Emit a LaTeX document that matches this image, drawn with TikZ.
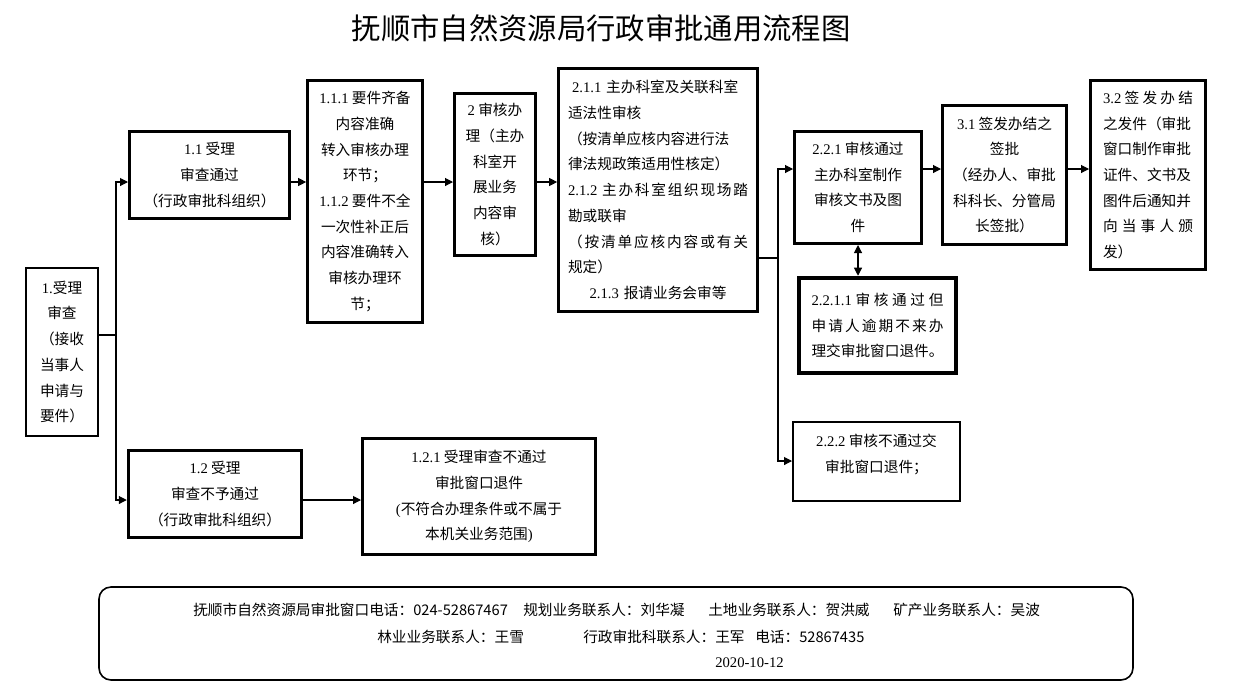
\documentclass[tikz,border=0pt]{standalone}
\usepackage{fontspec}
\setmainfont{Noto Sans CJK SC}
\newfontfamily\latf{Liberation Serif}
\newcommand\lat[1]{{\latf #1}}
\usetikzlibrary{arrows.meta}
\begin{document}
\begin{tikzpicture}[x=0.75pt,y=-0.75pt,
  font=\fontsize{11}{19.3}\selectfont,
  box/.style={draw, line width=2.25pt, inner sep=0pt, align=center},
  bw/.style 2 args={minimum width=#1*0.75pt, minimum height=#2*0.75pt},
  arr/.style={line width=0.8pt, -{Triangle[length=6pt,width=6pt]}},
  darr/.style={line width=0.8pt, {Triangle[length=6pt,width=6pt]}-{Triangle[length=6pt,width=6pt]}},
  ln/.style={line width=0.8pt},
  ftxt/.style={inner sep=0pt, anchor=west}]
\useasboundingbox (0,0) rectangle (1234,690);

% title
\node (title) at (601,28) {\fontsize{22}{26}\selectfont 抚顺市自然资源局行政审批通用流程图};

% boxes
\node[box, line width=1.5pt, bw={72}{168}] (b1) at (62,352)
  {\lat{1.}受理\\审查\\（接收\\当事人\\申请与\\要件）};
\node[box, bw={160}{87}] (b11) at (209.5,175)
  {\lat{1.1} 受理\\审查通过\\（行政审批科组织）};
\node[box, line width=2pt, bw={115}{242}] (b111) at (365,201.5)
  {\lat{1.1.1} 要件齐备\\内容准确\\转入审核办理\\环节；\\\lat{1.1.2} 要件不全\\一次性补正后\\内容准确转入\\审核办理环\\节；};
\node[box, bw={81}{162}] (b2) at (495,174.5)
  {\lat{2} 审核办\\理（主办\\科室开\\展业务\\内容审\\核）};
\node[box, line width=2pt, bw={199}{243}, align=left, text width=135pt] (b21) at (658,190)
  {\hspace*{3pt}\lat{2.1.1} 主办科室及关联科室\\适法性审核\\（按清单应核内容进行法\\律法规政策适用性核定）\\\lat{2.1.2} 主\hfill 办\hfill 科\hfill 室\hfill 组\hfill 织\hfill 现\hfill 场\hfill 踏\\勘或联审\\（\hfill 按\hfill 清\hfill 单\hfill 应\hfill 核\hfill 内\hfill 容\hfill 或\hfill 有\hfill 关\\规定）\\\hfill\lat{2.1.3} 报请业务会审等\hfill\null};
\node[box, bw={127}{112}] (b221) at (858,187.5)
  {\lat{2.2.1} 审核通过\\主办科室制作\\审核文书及图\\件};
\node[box, bw={124}{139}] (b31) at (1004.5,175)
  {\lat{3.1} 签发办结之\\签批\\（经办人、审批\\科科长、分管局\\长签批）};
\node[box, bw={115}{189}, align=left, text width=67.5pt] (b32) at (1148,175)
  {\lat{3.2}\hfill 签\hfill 发\hfill 办\hfill 结\\之发件（审批\\窗口制作审批\\证件、文书及\\图件后通知并\\向\hfill 当\hfill 事\hfill 人\hfill 颁\\发）};
\node[box, line width=3.4pt, bw={157}{95}, align=left, text width=99pt] (b2211) at (877.5,325.5)
  {\lat{2.2.1.1}\hfill 审\hfill 核\hfill 通\hfill 过\hfill 但\\申\hfill 请\hfill 人\hfill 逾\hfill 期\hfill 不\hfill 来\hfill 办\\理交审批窗口退件。};
\node[box, line width=1.5pt, bw={167}{79}] (b222) at (876.5,461.5) {};
\node[align=center, inner sep=0pt] (t222) at (876.5,454.5)
  {\lat{2.2.2} 审核不通过交\\审批窗口退件；};
\node[box, line width=2.6pt, bw={173}{87}] (b12) at (215,494)
  {\lat{1.2} 受理\\审查不予通过\\（行政审批科组织）};
\node[box, bw={233}{116}] (b121) at (479,496.5)
  {\lat{1.2.1} 受理审查不通过\\审批窗口退件\\\lat{(}不符合办理条件或不属于\\本机关业务范围\lat{)}};

% helper coordinates
\coordinate (ra) at (0,182);
\coordinate (rb) at (0,169);
\coordinate (rc) at (0,500);
\coordinate (rd) at (0,461);
\coordinate (j1) at (116,335);
\coordinate (j2) at (778,258);

% connectors
\draw[ln] (b1.east |- j1) -- (j1);
\draw[arr] (j1) |- (b11.west |- ra);
\draw[arr] (j1) |- (b12.west |- rc);
\draw[arr] (b11.east |- ra) -- (b111.west |- ra);
\draw[arr] (b111.east |- ra) -- (b2.west |- ra);
\draw[arr] (b2.east |- ra) -- (b21.west |- ra);
\draw[arr] (b12.east |- rc) -- (b121.west |- rc);
\draw[ln] (b21.east |- j2) -- (j2);
\draw[arr] (j2) |- (b221.west |- rb);
\draw[arr] (j2) |- (b222.west |- rd);
\draw[arr] (b221.east |- rb) -- (b31.west |- rb);
\draw[arr] (b31.east |- rb) -- (b32.west |- rb);
\draw[darr] (b221.south) -- (b221.south |- b2211.north);

% footer
\node[draw, line width=1.2pt, rounded corners=9pt, bw={1034}{93}] (foot) at (616,633.5) {};
\node[ftxt] (f1a) at (193,610) {抚顺市自然资源局审批窗口电话：024-52867467};
\node[ftxt] (f1b) at (523,610) {规划业务联系人：刘华凝};
\node[ftxt] (f1c) at (708,610) {土地业务联系人：贺洪威};
\node[ftxt] (f1d) at (893,610) {矿产业务联系人：吴波};
\node[ftxt] (f2a) at (377,637) {林业业务联系人：王雪};
\node[ftxt] (f2b) at (583,637) {行政审批科联系人：王军};
\node[ftxt] (f2c) at (755,637) {电话：52867435};
\node[ftxt] (f3) at (715,663) {\lat{2020-10-12}};
\end{tikzpicture}
\end{document}
